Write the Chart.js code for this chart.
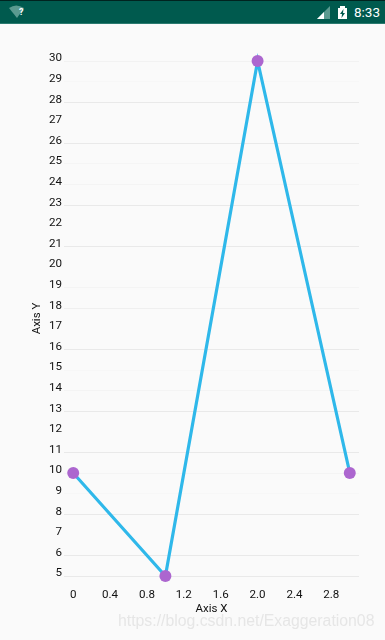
<!DOCTYPE html>
<html>
<head>
<meta charset="utf-8">
<script src="https://cdn.jsdelivr.net/npm/chart.js@4/dist/chart.umd.js"></script>
<style>
html,body{margin:0;padding:0;width:385px;height:640px;overflow:hidden;background:#fafafa}
#bar{position:absolute;left:0;top:0;width:385px;height:24px;background:#005a4e;border-top:1px solid #00231f;box-sizing:border-box;border-bottom:1px solid #2a7a6f}
#bar svg{position:absolute;left:0;top:-1px}
#clock{position:absolute;left:354px;top:3px;font:13.5px Roboto,sans-serif;color:#fff}
#q{position:absolute;left:19px;top:6px;font:bold 9px Roboto,sans-serif;color:#fff}
#wrap{position:absolute;left:0;top:0;width:385px;height:640px}
#mark{position:absolute;left:118px;top:612px;font:15.8px "Liberation Sans",sans-serif;color:#e6e6e6;white-space:nowrap}
</style>
</head>
<body>
<div id="wrap"><canvas id="c" width="385" height="640"></canvas></div>
<div id="bar">
<svg width="385" height="24">
<path d="M9 8 Q16 3 24 8 L17 18 Z" fill="#5b9a90"/>
<path d="M317 19 L330 6 L330 19 Z" fill="#5b9a90"/>
<path d="M317 19 L324 12 L324 19 Z" fill="#fff"/>
<path d="M338 8 L340 8 L340 6 L345 6 L345 8 L347 8 L347 19 L338 19 Z" fill="#fff"/>
<path d="M343.5 9 L340 14 L342 14 L341.5 18 L345 13 L343 13 Z" fill="#005a4e"/>
</svg>
<div id="q">?</div>
<div id="clock">8:33</div>
</div>
<div id="mark">https://blog.csdn.net/Exaggeration08</div>
<script>
const xValues = [0, 1, 2, 3];
const yValues = [10, 5, 30, 10];
const xTickValues = [0, 0.4, 0.8, 1.2, 1.6, 2.0, 2.4, 2.8];
const xTickLabels = ["0", "0.4", "0.8", "1.2", "1.6", "2.0", "2.4", "2.8"];
const yTickValues = [5,6,7,8,9,10,11,12,13,14,15,16,17,18,19,20,21,22,23,24,25,26,27,28,29,30];
const xTitle = "Axis X";
const yTitle = "Axis Y";
// grid line strength per y tick, 5 → 30 (the reference's lines are unevenly resampled)
const gridShade = ["#e9e9e9","#e9e9e9","#fafafa","#e9e9e9","#f7f7f7","#f4f4f4","#e9e9e9","#fafafa","#e9e9e9","#f4f4f4","#f7f7f7","#e9e9e9","#fafafa","#efefef","#f4f4f4","#fafafa","#e9e9e9","#fafafa","#e9e9e9","#f4f4f4","#f5f5f5","#e9e9e9","#fafafa","#e9e9e9","#f7f7f7","#f2f2f2"];

const font = {family: "Roboto, sans-serif", size: 11.6};
new Chart(document.getElementById("c"), {
  type: "scatter",
  data: {
    datasets: [{
      data: xValues.map((x, i) => ({x, y: yValues[i]})),
      showLine: true,
      borderColor: "#2fb8ea",
      borderWidth: 3.2,
      pointBackgroundColor: "#ac66cf",
      pointBorderWidth: 0,
      pointRadius: 6,
      clip: false
    }]
  },
  options: {
    responsive: false,
    animation: false,
    layout: {padding: {top: 61, right: 26, bottom: 24, left: 30}},
    plugins: {legend: {display: false}, tooltip: {enabled: false}},
    scales: {
      x: {
        type: "linear",
        min: -0.1,
        max: 3.1,
        afterBuildTicks: s => { s.ticks = xTickValues.map(value => ({value})); },
        afterFit: s => { s.height = 40; },
        grid: {display: false},
        border: {display: false},
        ticks: {
          autoSkip: false, maxRotation: 0, padding: 4, color: "#111", font,
          callback: v => xTickLabels[xTickValues.indexOf(v)]
        },
        title: {display: true, text: xTitle, color: "#111", font: {family: "Roboto, sans-serif", size: 11.5}, padding: {top: 4, bottom: 0}}
      },
      y: {
        type: "linear",
        min: 5,
        max: 30,
        afterBuildTicks: s => { s.ticks = yTickValues.map(value => ({value})); },
        afterFit: s => { s.width = 34; },
        grid: {
          drawTicks: false,
          color: c => gridShade[yTickValues.indexOf(c.tick.value)] || "#fafafa"
        },
        border: {display: false},
        ticks: {
          autoSkip: false, padding: 2, color: "#111", font, labelOffset: -2.5,
          callback: v => String(v)
        },
        title: {display: true, text: yTitle, color: "#111", font: {family: "Roboto, sans-serif", size: 11.5}, padding: 0}
      }
    }
  }
});
</script>
</body>
</html>
